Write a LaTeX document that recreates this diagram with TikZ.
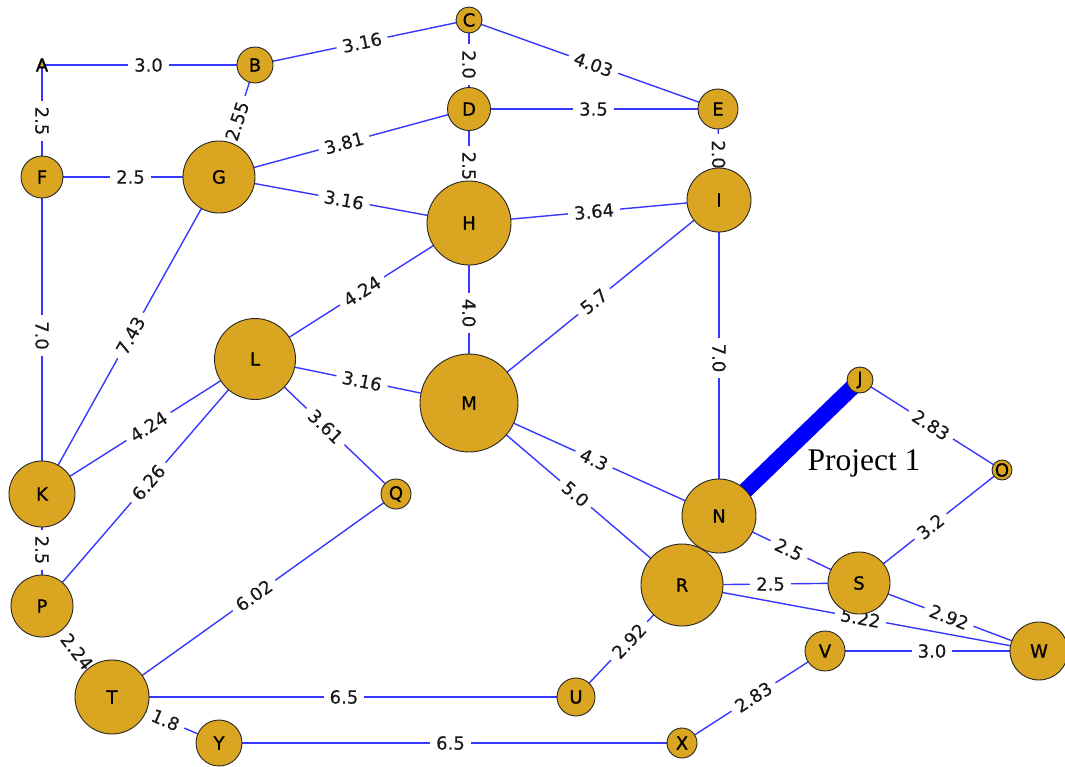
\documentclass[tikz,border=0pt]{standalone}
\usepackage{fontspec}
\setmainfont{DejaVu Sans}
\newfontfamily\vertexfont{DejaVu Sans}[FakeBold=0.9]
\newfontfamily\weightfont{DejaVu Sans}[FakeBold=0.3]
\newfontfamily\projfont{Liberation Serif}
\pgfdeclarelayer{edges}
\pgfsetlayers{edges,main}
\definecolor{gold}{HTML}{DAA520}
\definecolor{edgeblue}{RGB}{55,55,255}
\tikzset{
  vx/.style={circle, draw=black!85, line width=0.9pt, fill=gold, inner sep=0pt, minimum size=#1},
  vlab/.style={font=\vertexfont\fontsize{18}{18}\selectfont, text=black, inner sep=0pt},
  edge/.style={draw=edgeblue, line width=1.4pt},
  wlab/.style={midway, sloped, fill=white, inner xsep=6pt, inner ysep=1pt,
               font=\weightfont\fontsize{18}{18}\selectfont, text=black!90},
  proj/.style={draw=blue, line width=16pt},
  projtext/.style={font=\projfont\fontsize{31.5}{31.5}\selectfont, text=black, inner sep=0pt}
}
% vertex: name, x, y, diameter
\newcommand\vtx[4]{%
  \node[vx=#4] (#1) at (#2,#3) {};
  \node[vlab] (#1-t) at (#2,#3) {#1};}
\begin{document}
\begin{tikzpicture}[x=1pt,y=-1pt]
\useasboundingbox (0,0) rectangle (1065,766);

\vtx{A}{42}{65}{6pt}
\vtx{B}{255}{65}{36pt}
\vtx{C}{469}{20}{26pt}
\vtx{D}{469}{109}{43pt}
\vtx{E}{718}{109}{40pt}
\vtx{F}{42}{177}{42pt}
\vtx{G}{219}{177}{72pt}
\vtx{H}{469}{223}{84pt}
\vtx{I}{719}{200}{64pt}
\vtx{J}{860}{380}{26pt}
\vtx{K}{42}{494}{66pt}
\vtx{L}{255}{359}{81pt}
\vtx{M}{469}{403}{98pt}
\vtx{N}{719}{516}{74pt}
\vtx{O}{1002}{470}{20pt}
\vtx{P}{42}{606}{62pt}
\vtx{Q}{396}{494}{30pt}
\vtx{R}{682}{585}{82pt}
\vtx{S}{859}{583}{62pt}
\vtx{T}{112}{697}{74pt}
\vtx{U}{576}{697}{38pt}
\vtx{V}{825}{651}{40pt}
\vtx{W}{1039}{651}{58pt}
\vtx{X}{682}{743}{30pt}
\vtx{Y}{219}{743}{46pt}

\node[projtext] (proj1) at (864,463) {Project 1};

\begin{pgfonlayer}{edges}
  \draw[edge] (A.center) -- node[wlab]{3.0} (B.center);
  \draw[edge] (A.center) -- node[wlab]{2.5} (F.center);
  \draw[edge] (B.center) -- node[wlab]{3.16} (C.center);
  \draw[edge] (B.center) -- node[wlab]{2.55} (G.center);
  \draw[edge] (C.center) -- node[wlab]{2.0} (D.center);
  \draw[edge] (C.center) -- node[wlab]{4.03} (E.center);
  \draw[edge] (D.center) -- node[wlab]{3.5} (E.center);
  \draw[edge] (G.center) -- node[wlab]{3.81} (D.center);
  \draw[edge] (D.center) -- node[wlab]{2.5} (H.center);
  \draw[edge] (E.center) -- node[wlab]{2.0} (I.center);
  \draw[edge] (F.center) -- node[wlab]{2.5} (G.center);
  \draw[edge] (F.center) -- node[wlab]{7.0} (K.center);
  \draw[edge] (G.center) -- node[wlab]{3.16} (H.center);
  \draw[edge] (G.center) -- node[wlab]{7.43} (K.center);
  \draw[edge] (H.center) -- node[wlab]{3.64} (I.center);
  \draw[edge] (L.center) -- node[wlab]{4.24} (H.center);
  \draw[edge] (H.center) -- node[wlab]{4.0} (M.center);
  \draw[edge] (M.center) -- node[wlab]{5.7} (I.center);
  \draw[edge] (I.center) -- node[wlab]{7.0} (N.center);
  \draw[edge] (J.center) -- node[wlab]{2.83} (O.center);
  \draw[edge] (K.center) -- node[wlab]{4.24} (L.center);
  \draw[edge] (K.center) -- node[wlab]{2.5} (P.center);
  \draw[edge] (L.center) -- node[wlab]{3.16} (M.center);
  \draw[edge] (L.center) -- node[wlab]{3.61} (Q.center);
  \draw[edge] (P.center) -- node[wlab]{6.26} (L.center);
  \draw[edge] (M.center) -- node[wlab]{4.3} (N.center);
  \draw[edge] (M.center) -- node[wlab]{5.0} (R.center);
  \draw[edge] (N.center) -- node[wlab]{2.5} (S.center);
  \draw[edge] (S.center) -- node[wlab]{3.2} (O.center);
  \draw[edge] (R.center) -- node[wlab]{2.5} (S.center);
  \draw[edge] (R.center) -- node[wlab]{5.22} (W.center);
  \draw[edge] (S.center) -- node[wlab]{2.92} (W.center);
  \draw[edge] (V.center) -- node[wlab]{3.0} (W.center);
  \draw[edge] (X.center) -- node[wlab]{2.83} (V.center);
  \draw[edge] (P.center) -- node[wlab]{2.24} (T.center);
  \draw[edge] (T.center) -- node[wlab]{6.02} (Q.center);
  \draw[edge] (T.center) -- node[wlab]{6.5} (U.center);
  \draw[edge] (T.center) -- node[wlab]{1.8} (Y.center);
  \draw[edge] (Y.center) -- node[wlab]{6.5} (X.center);
  \draw[edge] (U.center) -- node[wlab]{2.92} (R.center);
  % highlighted project link, its weight label lies underneath
  \path (N.center) -- node[wlab]{3.61} (J.center);
  \draw[proj] (N.center) -- (J.center);
\end{pgfonlayer}
\end{tikzpicture}
\end{document}
